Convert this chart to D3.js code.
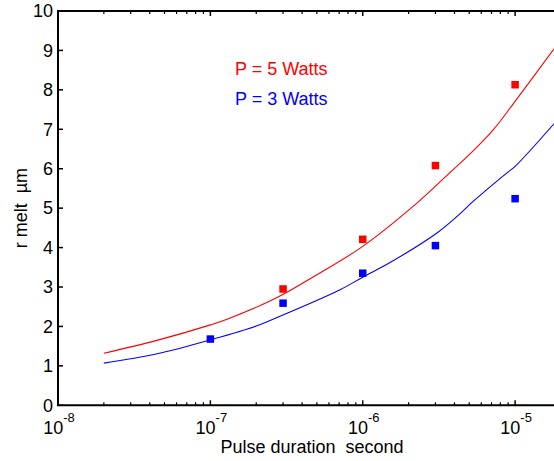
<!DOCTYPE html>
<html>
<head>
<meta charset="utf-8">
<script src="https://cdn.jsdelivr.net/npm/d3@7"></script>
<style>
  body { margin: 0; background: #fff; }
  svg { display: block; font-family: "Liberation Sans", Arial, sans-serif; }
</style>
</head>
<body>
<svg width="554" height="461"></svg>
<script>
// measured points (pulse duration s, r melt um)
const pulse = [1e-7, 3e-7, 1e-6, 3e-6, 1e-5];
const r5Points = [null, 2.95, 4.21, 6.08, 8.13];
const r3Points = [1.68, 2.59, 3.35, 4.05, 5.24];

// model curves
const curveT5 = [2e-8, 4.4e-8, 1e-7, 1.3e-7, 2.7e-7, 4.75e-7, 1e-6, 2.15e-6, 3.14e-6, 5.3e-6, 7.2e-6, 1e-5, 1.8e-5];
const curveR5 = [1.32, 1.64, 2.04, 2.19, 2.72, 3.26, 4.03, 5.05, 5.63, 6.45, 6.99, 7.71, 9.04];
const curveT3 = [2e-8, 4.4e-8, 1e-7, 2e-7, 3e-7, 7.1e-7, 1e-6, 1.51e-6, 3.07e-6, 4.36e-6, 5.3e-6, 8.8e-6, 1e-5, 1.8e-5];
const curveR3 = [1.07, 1.30, 1.66, 2.01, 2.29, 2.93, 3.25, 3.62, 4.37, 4.86, 5.17, 5.89, 6.06, 7.14];

const yTicks = [0, 1, 2, 3, 4, 5, 6, 7, 8, 9, 10];
const xMajor = [-8, -7, -6, -5];
const legendLabels = ["P = 5 Watts", "P = 3 Watts"];
const colors = ["#ff0000", "#0000ff"];

const svg = d3.select("svg");
const mLeft = 58, mRight = 554, mTop = 11, mBottom = 405.3;

const x = d3.scaleLog().domain([1e-8, 1.8e-5]).range([mLeft, mRight]);
const y = d3.scaleLinear().domain([0, 10]).range([mBottom, mTop]);

// minor ticks for the log axis
const xMinor = [];
xMajor.forEach(e => {
  for (let k = 2; k <= 9; k++) {
    const v = k * Math.pow(10, e);
    if (v <= x.domain()[1]) xMinor.push(v);
  }
});

const axes = svg.append("g").attr("stroke", "#000").attr("fill", "none");

// y ticks (inward)
axes.selectAll(".yt").data(yTicks).enter().append("line")
  .attr("x1", mLeft).attr("x2", mLeft + 5)
  .attr("y1", d => y(d)).attr("y2", d => y(d))
  .attr("stroke-width", 1.5);

// x ticks bottom and top
[[mBottom, -1], [mTop, 1]].forEach(([yy, dir]) => {
  axes.selectAll(null).data(xMajor).enter().append("line")
    .attr("x1", d => x(Math.pow(10, d))).attr("x2", d => x(Math.pow(10, d)))
    .attr("y1", yy).attr("y2", yy + dir * 5)
    .attr("stroke-width", 1.5);
  axes.selectAll(null).data(xMinor).enter().append("line")
    .attr("x1", d => x(d)).attr("x2", d => x(d))
    .attr("y1", yy).attr("y2", yy + dir * 3)
    .attr("stroke-width", 1.2);
});

// frame
axes.append("path")
  .attr("d", `M${mRight},${mTop}H${mLeft}V${mBottom}H${mRight}`)
  .attr("stroke-width", 2)
  .attr("stroke-linecap", "square");

// y tick labels
svg.selectAll(".ylab").data(yTicks).enter().append("text")
  .attr("x", mLeft - 5).attr("y", d => y(d))
  .attr("dy", "0.35em")
  .attr("text-anchor", "end")
  .attr("font-size", 18)
  .text(d => d);

// x tick labels 10^e
const xl = svg.selectAll(".xlab").data(xMajor).enter().append("text")
  .attr("x", d => x(Math.pow(10, d)) + 1).attr("y", 434)
  .attr("text-anchor", "middle")
  .attr("font-size", 18);
xl.append("tspan").text("10");
xl.append("tspan").attr("dy", -12).attr("font-size", 13).text(d => d);

// axis titles
svg.append("text")
  .attr("x", 312).attr("y", 452.5)
  .attr("text-anchor", "middle")
  .attr("font-size", 18)
  .style("white-space", "pre")
  .text("Pulse duration  second");

svg.append("text")
  .attr("transform", `translate(26.5,${(mTop + mBottom) / 2}) rotate(-90)`)
  .attr("text-anchor", "middle")
  .attr("font-size", 18)
  .style("white-space", "pre")
  .text("r melt  \u00b5m");

// curves
const line = d3.line().curve(d3.curveCatmullRom).x(d => x(d[0])).y(d => y(d[1]));
const curves = [d3.zip(curveT5, curveR5), d3.zip(curveT3, curveR3)];
svg.selectAll(".curve").data(curves).enter().append("path")
  .attr("d", line)
  .attr("fill", "none")
  .attr("stroke", (d, i) => colors[i])
  .attr("stroke-width", 1.1);

// points
const ms = 7.5;
[r5Points, r3Points].forEach((vals, i) => {
  const pts = pulse.map((t, j) => [t, vals[j]]).filter(d => d[1] != null);
  svg.selectAll(null).data(pts).enter().append("rect")
    .attr("x", d => x(d[0]) - ms / 2)
    .attr("y", d => y(d[1]) - ms / 2)
    .attr("width", ms).attr("height", ms)
    .attr("fill", colors[i]);
});

// legend text
svg.selectAll(".leg").data(legendLabels).enter().append("text")
  .attr("x", 235).attr("y", (d, i) => 75 + i * 30)
  .attr("font-size", 18)
  .attr("fill", (d, i) => colors[i])
  .text(d => d);
</script>
</body>
</html>
